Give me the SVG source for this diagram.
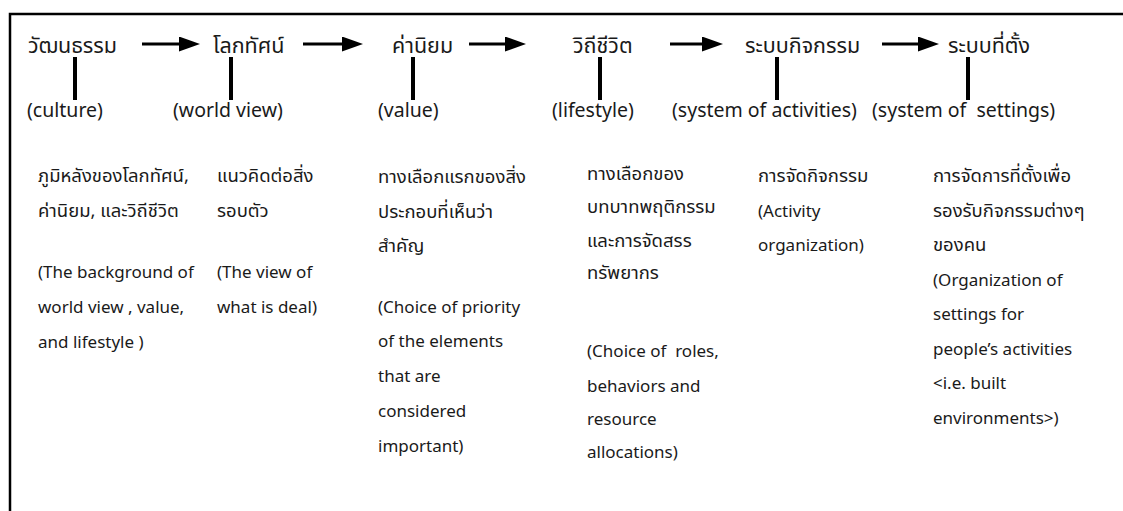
<svg xmlns="http://www.w3.org/2000/svg" width="1123" height="511" viewBox="0 0 1123 511">
<style>
text{font-family:"Noto Sans","Noto Sans Thai","Open Sans",sans-serif;fill:#1a1a1a;}
.t{font-size:21.5px;}
.e{font-size:19.5px;}
.d{font-size:17px;}
.dt{font-size:18.5px;}
.bar{fill:#000;}
.arr{stroke:#000;stroke-width:3;fill:none;}
</style>
<defs>
<marker id="ah" markerWidth="7" markerHeight="5" refX="0" refY="2.5" orient="auto" markerUnits="strokeWidth">
<path d="M0,0 L7,2.5 L0,5 Z" fill="#000"/>
</marker>
</defs>
<rect width="1123" height="511" fill="#fff"/>
<path d="M10,511 V14 H1123" fill="none" stroke="#000" stroke-width="2.5"/>
<g id="connectors">
<line class="arr" x1="142" y1="44" x2="179" y2="44" marker-end="url(#ah)"/>
<line class="arr" x1="303" y1="44" x2="342" y2="44" marker-end="url(#ah)"/>
<line class="arr" x1="469" y1="44" x2="505" y2="44" marker-end="url(#ah)"/>
<line class="arr" x1="670" y1="44" x2="702" y2="44" marker-end="url(#ah)"/>
<line class="arr" x1="882" y1="44" x2="918" y2="44" marker-end="url(#ah)"/>
<rect class="bar" x="73" y="57" width="4" height="43"/>
<rect class="bar" x="229" y="57" width="4" height="43"/>
<rect class="bar" x="411" y="57" width="4" height="43"/>
<rect class="bar" x="598" y="57" width="4" height="43"/>
<rect class="bar" x="775" y="57" width="4" height="43"/>
<rect class="bar" x="966" y="57" width="4" height="43"/>
</g>
<g id="n1">
<text class="t" x="28" y="53">วัฒนธรรม</text>
<text class="e" x="27" y="117">(culture)</text>
<text class="dt" x="38" y="182">ภูมิหลังของโลกทัศน์,</text>
<text class="dt" x="38" y="216.5">ค่านิยม, และวิถีชีวิต</text>
<text class="d" x="38" y="278">(The background of</text>
<text class="d" x="38" y="313">world view , value,</text>
<text class="d" x="38" y="348">and lifestyle )</text>
</g>
<g id="n2">
<text class="t" x="213" y="53">โลกทัศน์</text>
<text class="e" x="173" y="117">(world view)</text>
<text class="dt" x="217" y="182">แนวคิดต่อสิ่ง</text>
<text class="dt" x="217" y="216.5">รอบตัว</text>
<text class="d" x="217" y="278">(The view of</text>
<text class="d" x="217" y="313">what is deal)</text>
</g>
<g id="n3">
<text class="t" x="392" y="53">ค่านิยม</text>
<text class="e" x="378" y="117">(value)</text>
<text class="dt" x="378" y="183">ทางเลือกแรกของสิ่ง</text>
<text class="dt" x="378" y="218">ประกอบที่เห็นว่า</text>
<text class="dt" x="378" y="252">สำคัญ</text>
<text class="d" x="378" y="313">(Choice of priority</text>
<text class="d" x="378" y="347">of the elements</text>
<text class="d" x="378" y="382">that are</text>
<text class="d" x="378" y="417">considered</text>
<text class="d" x="378" y="452">important)</text>
</g>
<g id="n4">
<text class="t" x="573" y="53">วิถีชีวิต</text>
<text class="e" x="552" y="117">(lifestyle)</text>
<text class="dt" x="587" y="180">ทางเลือกของ</text>
<text class="dt" x="587" y="213">บทบาทพฤติกรรม</text>
<text class="dt" x="587" y="247">และการจัดสรร</text>
<text class="dt" x="587" y="279">ทรัพยากร</text>
<text class="d" x="587" y="357" xml:space="preserve">(Choice of  roles,</text>
<text class="d" x="587" y="392">behaviors and</text>
<text class="d" x="587" y="425">resource</text>
<text class="d" x="587" y="458">allocations)</text>
</g>
<g id="n5">
<text class="t" x="745" y="53">ระบบกิจกรรม</text>
<text class="e" x="672" y="117">(system of activities)</text>
<text class="dt" x="758" y="182">การจัดกิจกรรม</text>
<text class="d" x="758" y="216.5">(Activity</text>
<text class="d" x="758" y="251">organization)</text>
</g>
<g id="n6">
<text class="t" x="948" y="53">ระบบที่ตั้ง</text>
<text class="e" x="872" y="117" xml:space="preserve">(system of  settings)</text>
<text class="dt" x="933" y="182">การจัดการที่ตั้งเพื่อ</text>
<text class="dt" x="933" y="216.5">รองรับกิจกรรมต่างๆ</text>
<text class="dt" x="933" y="251">ของคน</text>
<text class="d" x="933" y="285.5">(Organization of</text>
<text class="d" x="933" y="320">settings for</text>
<text class="d" x="933" y="354.5">people’s activities</text>
<text class="d" x="933" y="389">&lt;i.e. built</text>
<text class="d" x="933" y="423.5">environments&gt;)</text>
</g>
</svg>
